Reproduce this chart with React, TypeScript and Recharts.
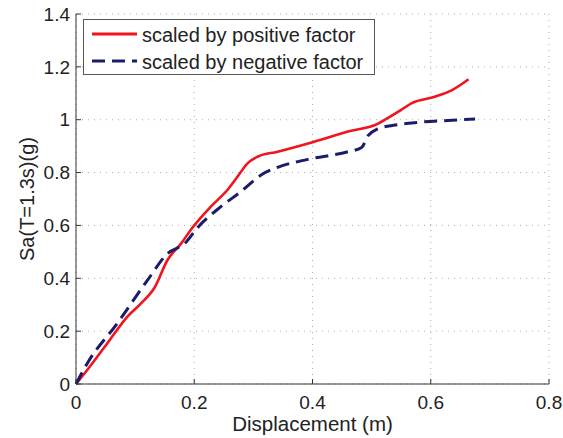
import { LineChart, Line, XAxis, YAxis, CartesianGrid, Legend, Label } from 'recharts';

// displacement (m) / Sa (g)
const posDisp = [0, 0.019, 0.053, 0.087, 0.11, 0.133, 0.155, 0.178, 0.194, 0.228, 0.256, 0.273, 0.29, 0.307, 0.341, 0.403, 0.46, 0.511, 0.522, 0.55, 0.568, 0.607, 0.636, 0.664];
const posSa = [0, 0.053, 0.154, 0.255, 0.305, 0.365, 0.47, 0.532, 0.583, 0.671, 0.734, 0.784, 0.835, 0.86, 0.879, 0.917, 0.955, 0.985, 0.999, 1.037, 1.063, 1.087, 1.112, 1.153];

const negDisp = [0, 0.019, 0.07, 0.121, 0.155, 0.184, 0.205, 0.245, 0.279, 0.313, 0.341, 0.392, 0.46, 0.483, 0.494, 0.51, 0.54, 0.579, 0.636, 0.675];
const negSa = [0, 0.078, 0.23, 0.393, 0.494, 0.532, 0.59, 0.671, 0.728, 0.791, 0.82, 0.85, 0.879, 0.895, 0.94, 0.965, 0.98, 0.99, 0.998, 1.003];

const xTicks = [0, 0.2, 0.4, 0.6, 0.8];
const yTicks = [0, 0.2, 0.4, 0.6, 0.8, 1, 1.2, 1.4];

const posLabel = 'scaled by positive factor';
const negLabel = 'scaled by negative factor';

const posData = posDisp.map((d, i) => ({ d, sa: posSa[i] }));
const negData = negDisp.map((d, i) => ({ d, sa: negSa[i] }));

const FONT = '"Liberation Sans", Arial, Helvetica, sans-serif';
const RED = '#f2141c';
const NAVY = '#1b1b6b';
const AXIS = '#333';

function LegendBox() {
  return (
    <svg width={293} height={57} style={{ display: 'block' }}>
      <rect x={0.5} y={0.5} width={291} height={55} fill="#fff" stroke="#555" />
      <line x1={9} x2={54} y1={15} y2={15} stroke={RED} strokeWidth={3} />
      <line x1={9} x2={54} y1={42} y2={42} stroke={NAVY} strokeWidth={3} strokeDasharray="13 7" />
      <text x={59} y={23} fontSize={20} fontFamily={FONT} fill="#222">{posLabel}</text>
      <text x={59} y={50} fontSize={20} fontFamily={FONT} fill="#222">{negLabel}</text>
    </svg>
  );
}

export default function App() {
  const tickStyle = { fontSize: 19, fill: '#222', fontFamily: FONT };
  return (
    <div style={{ position: 'absolute', left: 0, top: 0, width: 563, height: 438, background: '#fff' }}>
      <LineChart width={563} height={438} margin={{ top: 14, right: 14, bottom: 0, left: 0 }}>
        <CartesianGrid xAxisId="bottom" yAxisId="left" stroke="#aaa" strokeDasharray="1 5" />
        <XAxis
          xAxisId="bottom"
          dataKey="d"
          type="number"
          domain={[0, 0.8]}
          ticks={xTicks}
          allowDuplicatedCategory={false}
          height={54}
          tickSize={-5}
          tickMargin={17}
          stroke={AXIS}
          tick={tickStyle}
        >
          <Label
            content={() => (
              <text x={312.5} y={431} textAnchor="middle" fontSize={20.5} fontFamily={FONT} fill="#222">
                Displacement (m)
              </text>
            )}
          />
        </XAxis>
        <XAxis xAxisId="top" orientation="top" type="number" domain={[0, 0.8]} ticks={xTicks} height={0} tickSize={-5} tick={false} stroke={AXIS} />
        <YAxis
          yAxisId="left"
          type="number"
          domain={[0, 1.4]}
          ticks={yTicks}
          width={76}
          tickSize={-5}
          tickMargin={11}
          stroke={AXIS}
          tick={tickStyle}
        >
          <Label
            content={() => (
              <text x={34} y={199} transform="rotate(-90 34 199)" textAnchor="middle" fontSize={20} fontFamily={FONT} fill="#222">
                Sa(T=1.3s)(g)
              </text>
            )}
          />
        </YAxis>
        <YAxis yAxisId="right" orientation="right" type="number" domain={[0, 1.4]} ticks={yTicks} width={0} tickSize={-5} tick={false} stroke={AXIS} />
        <Line
          xAxisId="bottom"
          yAxisId="left"
          data={posData}
          dataKey="sa"
          name={posLabel}
          type="monotone"
          stroke={RED}
          strokeWidth={2.6}
          dot={false}
          isAnimationActive={false}
        />
        <Line
          xAxisId="bottom"
          yAxisId="left"
          data={negData}
          dataKey="sa"
          name={negLabel}
          type="monotone"
          stroke={NAVY}
          strokeWidth={3}
          strokeDasharray="13 7"
          dot={false}
          isAnimationActive={false}
        />
        <Legend
          layout="horizontal"
          verticalAlign="middle"
          align="center"
          content={() => <LegendBox />}
          wrapperStyle={{ left: 83, top: 19, width: 293, height: 57 }}
        />
      </LineChart>
    </div>
  );
}
